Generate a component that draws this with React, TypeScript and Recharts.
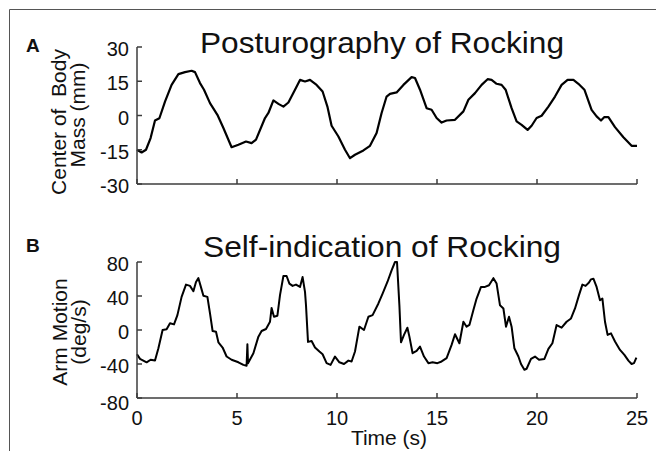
import React from 'react';
import { LineChart, Line, XAxis, YAxis } from 'recharts';

// ---- Data ----
const postureTime = [0, 0.23, 0.45, 0.68, 0.9, 1.12, 1.4, 1.73, 2.07, 2.4, 2.73, 2.9, 3.15, 3.35, 3.65, 4.02, 4.32, 4.73, 5.07, 5.45, 5.73, 5.95, 6.4, 6.57, 6.82, 7.07, 7.32, 7.57, 7.9, 8.15, 8.4, 8.65, 8.98, 9.28, 9.52, 9.73, 10.07, 10.4, 10.65, 10.9, 11.32, 11.65, 11.98, 12.23, 12.48, 12.65, 12.98, 13.32, 13.73, 13.9, 14.15, 14.48, 14.73, 14.98, 15.23, 15.48, 15.9, 16.32, 16.57, 16.9, 17.23, 17.53, 17.73, 17.98, 18.23, 18.43, 18.73, 18.98, 19.23, 19.53, 19.73, 19.98, 20.23, 20.57, 20.9, 21.23, 21.53, 21.82, 22.07, 22.37, 22.73, 22.98, 23.2, 23.37, 23.57, 23.9, 24.32, 24.73, 25];
const postureValue = [-15, -16.2, -15, -9.9, -2.2, -1.2, 6.1, 13.4, 18.1, 19, 19.6, 19, 14.2, 11.3, 5.4, 0.3, -5.5, -13.9, -12.8, -11.4, -12.1, -10.6, -1.1, 1.1, 6.6, 5.1, 3.9, 5.7, 11.3, 15.6, 14.9, 15.6, 13.4, 10.5, 3.9, -4.5, -9.2, -15, -18.7, -17.2, -15.3, -13.3, -7.7, 1.1, 8.3, 9.5, 10.1, 13.4, 16.8, 16.4, 11.3, 3.2, 2.5, -1.1, -3.1, -2.2, -1.9, 1.8, 6.9, 9.8, 13.4, 15.9, 15.6, 13.9, 13.4, 11.3, 3.2, -2.6, -4.1, -6.3, -4.5, -1.1, -0.1, 3.9, 8.3, 13.4, 15.6, 15.6, 13.9, 11.3, 2.5, -0.4, -2.2, -0.7, -0.7, -5.1, -9.5, -13.3, -13.3];

const armTime = [0, 0.15, 0.48, 0.68, 0.9, 1.07, 1.28, 1.48, 1.65, 1.85, 2.02, 2.23, 2.45, 2.65, 2.82, 2.95, 3.07, 3.18, 3.32, 3.52, 3.65, 3.78, 3.95, 4.07, 4.28, 4.48, 4.73, 5.07, 5.32, 5.48, 5.52, 5.55, 5.82, 6.07, 6.23, 6.45, 6.65, 6.73, 6.85, 7.02, 7.15, 7.32, 7.48, 7.62, 7.78, 7.95, 8.15, 8.28, 8.4, 8.45, 8.55, 8.73, 8.9, 9.12, 9.28, 9.48, 9.68, 9.9, 10.12, 10.35, 10.57, 10.73, 10.9, 11.12, 11.35, 11.57, 11.78, 12.07, 12.28, 12.52, 12.73, 12.9, 13.0, 13.12, 13.2, 13.35, 13.52, 13.62, 13.78, 13.98, 14.15, 14.35, 14.57, 14.78, 15.02, 15.23, 15.48, 15.73, 15.9, 16.12, 16.32, 16.48, 16.62, 16.82, 16.98, 17.2, 17.4, 17.6, 17.82, 17.98, 18.15, 18.32, 18.45, 18.6, 18.73, 18.87, 19.07, 19.2, 19.37, 19.48, 19.7, 19.9, 20.1, 20.37, 20.57, 20.77, 20.98, 21.23, 21.48, 21.7, 21.9, 22.1, 22.27, 22.43, 22.6, 22.7, 22.82, 22.98, 23.15, 23.27, 23.4, 23.53, 23.7, 23.9, 24.15, 24.37, 24.57, 24.73, 24.85, 24.97];
const armValue = [-28.5, -34, -38, -35, -36, -21.5, 0, 1, 8, 6.6, 17.5, 39, 53.4, 51.9, 45.6, 56.5, 61, 51.9, 40.2, 39, 19.5, -1.2, -2, -14.5, -20.6, -31.2, -35, -38, -41, -42, -16.8, -39, -27.3, -7.8, -1.2, 1.2, 9.7, 26, 15.6, 16.8, 41, 63.5, 63.5, 54.6, 51.9, 53.4, 50.7, 62.3, 44.8, 29, -14, -12.9, -20.6, -25.3, -28.5, -39, -41, -31.2, -38, -40, -36, -37, -25.3, 3.9, 0, 15.6, 17.5, 31.2, 42.9, 56.5, 70.2, 80, 80, 29, -14.5, -5.8, 2.7, -7.8, -27.3, -24.6, -19.5, -31.2, -39, -38, -39, -37, -33.1, -17.5, -5, -15.6, 9.7, 3.9, 6, 23.4, 37, 50.7, 50.7, 52.6, 61, 54.6, 29, 25.3, 3.9, 15.6, 3.9, -21.5, -31.2, -40, -46.8, -45.6, -34, -31.2, -35, -34, -22.2, -15.6, 5.8, 2.7, 9.7, 13.6, 25.3, 41, 53.4, 51.9, 55.8, 59.6, 60.4, 50.7, 35, 37, 9.7, -5.8, -3.9, -13.6, -23.4, -29.2, -36, -40, -39, -32.4];

const timeTicks = [0, 5, 10, 15, 20, 25];
const postureTicks = [-30, -15, 0, 15, 30];
const armTicks = [-80, -40, 0, 40, 80];

const panelATitle = 'Posturography of Rocking';
const panelBTitle = 'Self-indication of Rocking';
const panelAYLabel = ['Center of  Body', 'Mass (mm)'];
const panelBYLabel = ['Arm Motion', '(deg/s)'];
const xLabel = 'Time (s)';

const postureData = postureTime.map((t, i) => ({ t, v: postureValue[i] }));
const armData = armTime.map((t, i) => ({ t, v: armValue[i] }));

const FONT = '"Liberation Sans", Arial, Helvetica, sans-serif';
const AXIS = '#3c3c3c';
const TEXT = '#111';

const makeYTick = (shift: number, bottomExtra: number) => (props: any) => {
  const { x, y, payload, index } = props;
  const dy = shift + (index === 0 ? bottomExtra : 0);
  return (
    <text x={x} y={y + dy} textAnchor="end" dominantBaseline="central" fontSize={20} fontFamily={FONT} fill={TEXT}>
      {payload.value}
    </text>
  );
};

const XTick = (props: any) => {
  const { x, y, payload } = props;
  return (
    <text x={x} y={y} dy={14.5} textAnchor="middle" fontSize={20} fontFamily={FONT} fill={TEXT}>
      {payload.value}
    </text>
  );
};

const NoTick = () => <g />;

const axisLine = { stroke: AXIS, strokeWidth: 1.5 };

export default function App() {
  return (
    <div style={{ position: 'absolute', left: 0, top: 0, width: 656, height: 451, background: '#fff', overflow: 'hidden' }}>
      <div style={{ position: 'absolute', left: 0, top: 0 }}>
        <LineChart width={656} height={200} data={postureData} margin={{ top: 47, right: 19, bottom: 0, left: 0 }}>
          <XAxis
            dataKey="t"
            type="number"
            domain={[0, 25]}
            ticks={timeTicks}
            interval={0}
            height={16}
            tick={NoTick}
            tickSize={-5}
            axisLine={axisLine}
            tickLine={axisLine}
          />
          <YAxis
            type="number"
            domain={[-30, 30]}
            ticks={postureTicks}
            interval={0}
            width={137}
            tickSize={-5}
            tickMargin={13}
            tick={makeYTick(2, 0)}
            axisLine={axisLine}
            tickLine={axisLine}
          />
          <Line
            dataKey="v"
            type="linear"
            stroke="#000"
            strokeWidth={2.2}
            dot={false}
            strokeLinejoin="round"
            isAnimationActive={false}
          />
        </LineChart>
      </div>
      <div style={{ position: 'absolute', left: 0, top: 0 }}>
        <LineChart width={656} height={451} data={armData} margin={{ top: 262, right: 19, bottom: 0, left: 0 }}>
          <XAxis
            dataKey="t"
            type="number"
            domain={[0, 25]}
            ticks={timeTicks}
            interval={0}
            height={53}
            tick={XTick}
            tickSize={-5}
            tickMargin={17}
            axisLine={axisLine}
            tickLine={axisLine}
          />
          <YAxis
            type="number"
            domain={[-80, 80]}
            ticks={armTicks}
            interval={0}
            width={137}
            tickSize={-5}
            tickMargin={13}
            tick={makeYTick(2, 3)}
            axisLine={axisLine}
            tickLine={axisLine}
          />
          <Line
            dataKey="v"
            type="linear"
            stroke="#000"
            strokeWidth={2}
            dot={false}
            strokeLinejoin="round"
            isAnimationActive={false}
          />
        </LineChart>
      </div>
      <svg width={656} height={451} style={{ position: 'absolute', left: 0, top: 0, pointerEvents: 'none' }} fontFamily={FONT}>
        <path d="M9.5 451 V9.5 H656" stroke="#555" strokeWidth={1} fill="none" />
        <text x={26} y={52} fontSize={19} fontWeight="bold" fill={TEXT}>A</text>
        <text x={26} y={252} fontSize={19} fontWeight="bold" fill={TEXT}>B</text>
        <text x={382} y={53} fontSize={29} textAnchor="middle" fill={TEXT} textLength={364} lengthAdjust="spacingAndGlyphs">{panelATitle}</text>
        <text x={382} y={257} fontSize={29} textAnchor="middle" fill={TEXT} textLength={358} lengthAdjust="spacingAndGlyphs">{panelBTitle}</text>
        <text transform="translate(58,122) rotate(-90)" fontSize={21} textAnchor="middle" dominantBaseline="central" fill={TEXT} style={{ whiteSpace: 'pre' }}>{panelAYLabel[0]}</text>
        <text transform="translate(77,115) rotate(-90)" fontSize={21} textAnchor="middle" dominantBaseline="central" fill={TEXT}>{panelAYLabel[1]}</text>
        <text transform="translate(59,332) rotate(-90)" fontSize={21} textAnchor="middle" dominantBaseline="central" fill={TEXT}>{panelBYLabel[0]}</text>
        <text transform="translate(78,332) rotate(-90)" fontSize={21} textAnchor="middle" dominantBaseline="central" fill={TEXT}>{panelBYLabel[1]}</text>
        <text x={389} y={445} fontSize={21} textAnchor="middle" fill={TEXT}>{xLabel}</text>
      </svg>
    </div>
  );
}
